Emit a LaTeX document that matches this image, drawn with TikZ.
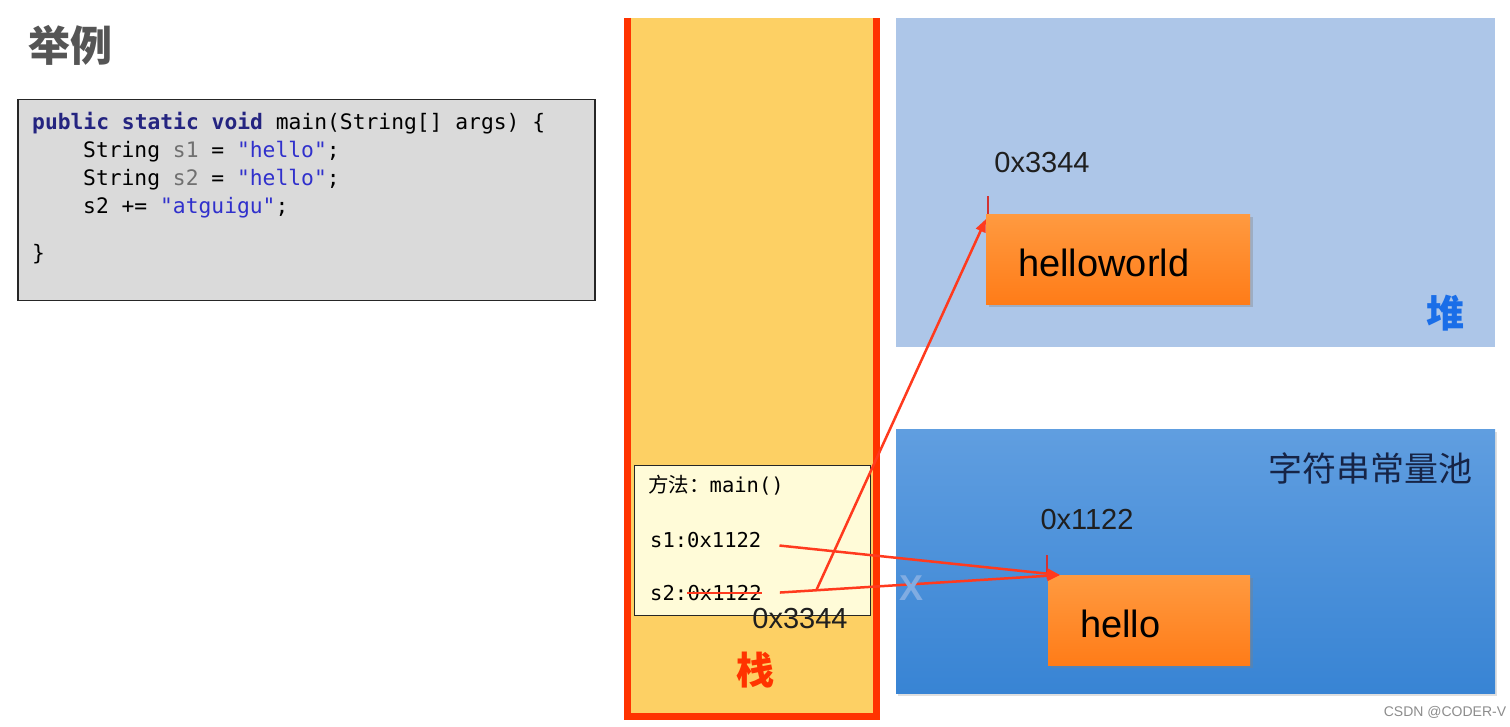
\documentclass[tikz,border=0pt]{standalone}
\usepackage{fontspec}
\setmainfont{Liberation Sans}
\setmonofont{DejaVu Sans Mono}
\newfontfamily\cjk{Noto Sans CJK SC}
\usetikzlibrary{arrows.meta,shadows}

\definecolor{stackyellow}{RGB}{253,208,100}
\definecolor{stackred}{RGB}{255,51,0}
\definecolor{heapblue}{RGB}{173,198,232}
\definecolor{pooltop}{RGB}{96,158,224}
\definecolor{poolbottom}{RGB}{56,132,212}
\definecolor{objtop}{RGB}{255,154,64}
\definecolor{objbottom}{RGB}{255,124,24}
\definecolor{codegray}{RGB}{218,218,218}
\definecolor{framecream}{RGB}{255,251,216}
\definecolor{refred}{RGB}{255,58,30}
\definecolor{tickred}{RGB}{210,50,50}
\definecolor{kwblue}{RGB}{36,36,128}
\definecolor{strblue}{RGB}{48,48,204}
\definecolor{vargray}{RGB}{112,112,112}
\definecolor{titlegray}{RGB}{85,85,85}
\definecolor{poolnavy}{RGB}{22,36,70}
\definecolor{heaplabel}{RGB}{26,110,232}
\definecolor{crossblue}{RGB}{128,172,226}

\newcommand{\lowered}[1]{\raisebox{-4pt}[\height][\depth]{#1}}

\begin{document}
\begin{tikzpicture}[x=1pt, y=-1pt,
	region/.style={draw=none, inner sep=0pt, anchor=north west},
	codeline/.style={font=\ttfamily\fontsize{21.3}{24}\selectfont, anchor=base west, inner sep=0pt},
	frameline/.style={codeline, font=\ttfamily\fontsize{20.5}{24}\selectfont},
	objbox/.style={
		region, top color=objtop, bottom color=objbottom,
		drop shadow={opacity=0.35, shadow xshift=3pt, shadow yshift=-3pt},
		minimum height=90pt, inner xsep=32pt, align=left,
		font=\fontsize{38}{40}\selectfont
	},
	addr/.style={font=\fontsize{29}{32}\selectfont, inner sep=0pt, text=black!88},
	stackedge/.style={draw=stackred, line width=7pt, line join=miter},
	ref/.style={draw=refred, line width=2.5pt, -{Triangle[length=13pt,width=10pt]}},
	strike/.style={draw=refred, line width=2pt},
	tick/.style={draw=tickred, line width=2pt},
	]
	\useasboundingbox (0,0) rectangle (1510,727);
	
	% code on the left
	\node[font=\cjk\bfseries\fontsize{42}{44}\selectfont, text=titlegray] (title) at (70,45) {举例};
	\node[region, fill=codegray, draw=black!85, line width=1.5pt,
	minimum width=577pt, minimum height=201pt] (code) at (17,99) {};
	\node[codeline] (line1) at (32,130) {\textbf{\color{kwblue}public static void} main(String[] args) \{};
	\node[codeline] (line2) at (83,158) {String {\color{vargray}s1} = {\color{strblue}"hello"};};
	\node[codeline] (line3) at (83,186) {String {\color{vargray}s2} = {\color{strblue}"hello"};};
	\node[codeline] (line4) at (83,214) {s2 += {\color{strblue}"atguigu"};};
	\node[codeline] (line5) at (32,261) {\}};
	
	% stack
	\node[region, fill=stackyellow, minimum width=249pt, minimum height=698pt] (stack) at (627,18) {};
	\draw[stackedge] (stack.north west) -- (stack.south west) -- (stack.south east) -- (stack.north east);
	\node[region, fill=framecream, draw=black!85, line width=1.2pt,
	minimum width=236pt, minimum height=150pt] (frame) at (634,465) {};
	\node[frameline] (method) at (648,492) {{\cjk 方法：}main()};
	\node[frameline] (s1ref) at (650,547) {s1:0x1122};
	\node[frameline] (s2ref) at (650,600) {s2:};
	\node[frameline] (s2old) at (s2ref.base east) {0x1122};
	\draw[strike] ([yshift=7pt]s2old.base west) -- ([yshift=7pt]s2old.base east);
	\node[addr] (s2new) at (800,619) {0x3344};
	\node[font=\cjk\bfseries\fontsize{38}{40}\selectfont, text=stackred] (stacklbl) at (755,670) {栈};
	
	% heap
	\node[region, fill=heapblue, minimum width=599pt, minimum height=329pt] (heap) at (896,18) {};
	\node[font=\cjk\bfseries\fontsize{38}{40}\selectfont, text=heaplabel] (heaplbl) at (1445,313) {堆};
	\node[objbox, text width=200pt] (hw) at (986,214) {\lowered{helloworld}};
	\node[addr] (hwaddr) at (1042,163) {0x3344};
	\draw[tick] ([xshift=2pt]hw.north west) -- ([xshift=2pt,yshift=18pt]hw.north west);
	
	% string pool
	\node[region, top color=pooltop, bottom color=poolbottom, minimum width=599pt, minimum height=264pt,
	drop shadow={opacity=0.25, shadow xshift=2pt, shadow yshift=-3pt}] (pool) at (896,429) {};
	\node[font=\cjk\fontsize{34}{36}\selectfont, text=poolnavy] (poollbl) at (1370,468) {字符串常量池};
	\node[addr] (helloaddr) at (1087,520) {0x1122};
	\node[objbox, text width=138pt] (hello) at (1048,575) {\lowered{hello}};
	\draw[tick] ([xshift=-1pt]hello.north west) -- ([xshift=-1pt,yshift=20pt]hello.north west);
	
	% references
	\draw[ref] ([xshift=18pt,yshift=-6pt]s1ref.east) -- ([xshift=12pt]hello.north west);
	\draw[ref] ([xshift=18pt]s2old.east) -- coordinate[pos=0.13] (split) ([xshift=12pt]hello.north west);
	\draw[ref] (split) -- ([yshift=-5pt]hw.north west);
	\node[font=\bfseries\fontsize{36}{38}\selectfont, text=crossblue] (cross) at (911,588) {X};
	
	\node[font=\fontsize{14}{16}\selectfont, text=black!45] (mark) at (1445,712) {CSDN @CODER-V};
\end{tikzpicture}
\end{document}
